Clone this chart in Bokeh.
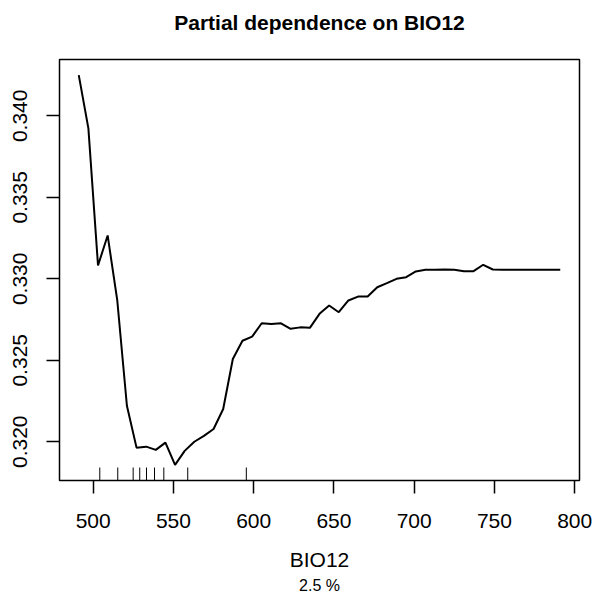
from bokeh.plotting import figure
from bokeh.models import Range1d, FixedTicker, PrintfTickFormatter, Title, LinearAxis
from bokeh.embed import file_html
from bokeh.resources import INLINE
import math

# data
bio12 = [491, 497, 503, 509, 515, 521, 527, 533, 539, 545, 551, 557, 563, 569, 575,
         581, 587, 593, 599, 605, 611, 617, 623, 629, 635, 641, 647, 653, 659, 665,
         671, 677, 683, 689, 695, 701, 707, 713, 719, 725, 731, 737, 743, 749, 755,
         761, 767, 773, 779, 785, 791]
fitted = [0.34250, 0.33923, 0.33082, 0.33266, 0.32867, 0.32221, 0.31964, 0.31970,
          0.31950, 0.31995, 0.31858, 0.31944, 0.32000, 0.32036, 0.32078, 0.32201,
          0.32508, 0.32620, 0.32645, 0.32727, 0.32723, 0.32727, 0.32693, 0.32702,
          0.32699, 0.32785, 0.32836, 0.32795, 0.32867, 0.32891, 0.32891, 0.32948,
          0.32973, 0.33000, 0.33010, 0.33045, 0.33055, 0.33055, 0.33057, 0.33055,
          0.33047, 0.33047, 0.33086, 0.33057, 0.33055, 0.33055, 0.33055, 0.33055,
          0.33055, 0.33055, 0.33055]
deciles = [504.1, 515.3, 524.9, 529.0, 533.2, 538.2, 544.0, 558.9, 595.4]
x_ticks = [500, 550, 600, 650, 700, 750, 800]
y_ticks = [0.320, 0.325, 0.330, 0.335, 0.340]
title_text = "Partial dependence on BIO12"
x_label = "BIO12"
sub_label = "2.5 %"

FONT = "Liberation Sans"

def padded(vals, f=0.04):
    lo, hi = min(vals), max(vals)
    d = (hi - lo) * f
    return lo - d, hi + d

x0, x1 = padded(bio12)
y0, y1 = padded(fitted)

p = figure(width=606, height=595, x_range=Range1d(x0, x1), y_range=Range1d(y0, y1),
           output_backend="svg", toolbar_location=None,
           min_border_left=59, min_border_top=59, min_border_right=27, min_border_bottom=115)

p.background_fill_color = "white"
p.border_fill_color = "white"
p.outline_line_color = "black"
p.outline_line_width = 1.5
p.xgrid.visible = False
p.ygrid.visible = False
p.title.text = ""
p.title.standoff = 0

bottom_ax = p.below[0]
left_ax = p.left[0]

for ax in (bottom_ax, left_ax):
    ax.axis_line_color = None
    ax.major_tick_line_color = "black"
    ax.major_tick_line_width = 1.5
    ax.major_tick_out = 13
    ax.major_tick_in = 0
    ax.minor_tick_line_color = None
    ax.major_label_text_font = FONT
    ax.major_label_text_font_size = "21px"
    ax.major_label_text_color = "black"

bottom_ax.ticker = FixedTicker(ticks=x_ticks)
bottom_ax.major_label_standoff = 20
bottom_ax.axis_label = x_label
bottom_ax.axis_label_text_font = FONT
bottom_ax.axis_label_text_font_size = "21px"
bottom_ax.axis_label_text_font_style = "normal"
bottom_ax.axis_label_text_color = "black"
bottom_ax.axis_label_standoff = 17

left_ax.ticker = FixedTicker(ticks=y_ticks)
left_ax.formatter = PrintfTickFormatter(format="%.3f")
left_ax.major_label_orientation = "vertical"
left_ax.major_label_standoff = 19

# main title as the label of a tick-less top axis
top_ax = LinearAxis(ticker=FixedTicker(ticks=[]), axis_label=title_text,
                    axis_label_text_font=FONT, axis_label_text_font_size="21px",
                    axis_label_text_font_style="bold", axis_label_text_color="black",
                    axis_label_standoff=26, axis_line_color=None,
                    major_tick_out=0, major_tick_in=0, minor_tick_out=0, minor_tick_in=0,
                    major_label_standoff=0)
p.add_layout(top_ax, "above")

p.line(bio12, fitted, line_color="black", line_width=2)

# rug of deciles
p.scatter(deciles, [y0] * len(deciles), marker="dash", size=26,
          angle=math.pi / 2, line_color="black", line_width=1)

p.add_layout(Title(text=sub_label, align="center", text_font=FONT, text_font_size="16px",
                   text_font_style="normal", text_color="black", standoff=2), "below")

open("out.html", "w").write(file_html(p, INLINE))
